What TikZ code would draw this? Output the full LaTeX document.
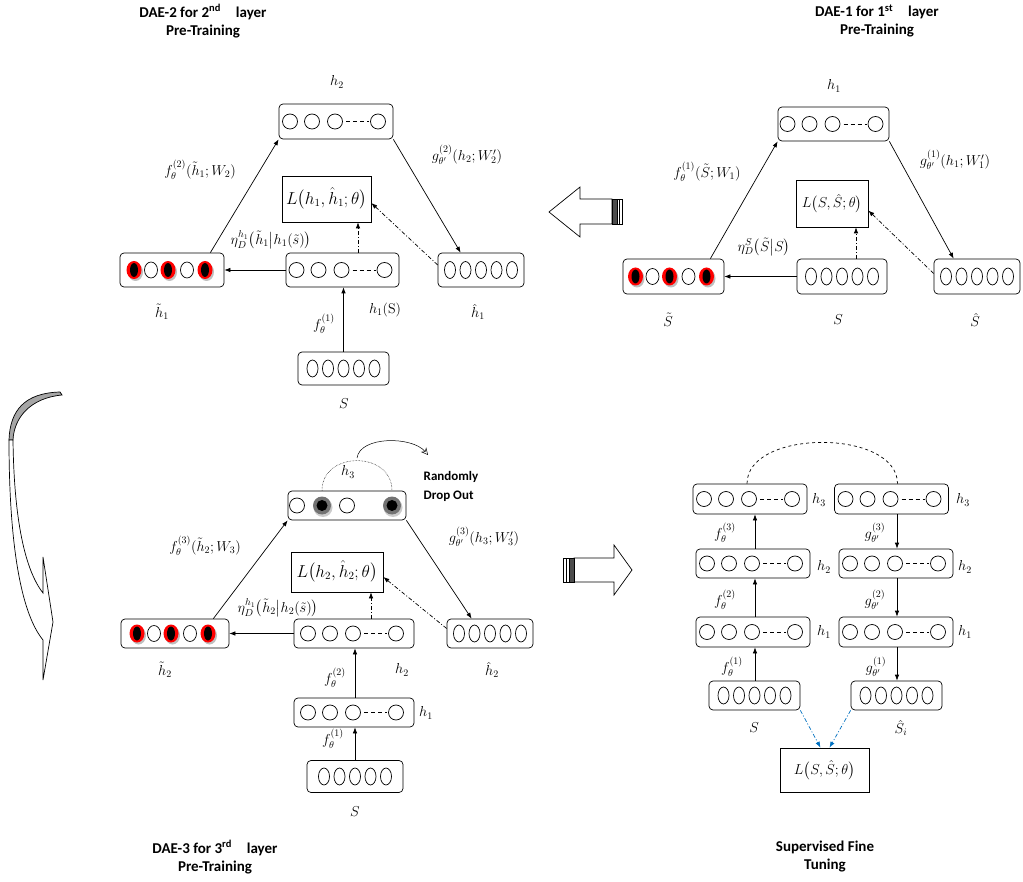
\documentclass[tikz,border=0pt]{standalone}
\usepackage{fontspec}
\usepackage{amsmath}
\usepackage{amssymb}
\usetikzlibrary{calc,arrows.meta}
\newfontfamily\calibri{Carlito}

% hidden units: three circles, dashes, one circle
\newcommand{\hunits}[1]{%
  \foreach \dx in {-46,-24,-1,42}
    \draw ($(#1)+(\dx,0)$) circle[radius=7.5pt];
  \draw[dash pattern=on 4pt off 3pt] ($(#1)+(10,0)$) -- ($(#1)+(33,0)$);}
% input units: five ovals
\newcommand{\ovals}[1]{%
  \foreach \dx in {-31,-15.5,0,15.5,31}
    \draw ($(#1)+(\dx,0)$) ellipse[x radius=5.5pt,y radius=8.5pt];}
% corrupted input: red rings with black cores
\newcommand{\noisy}[1]{%
  \foreach \dx in {-38,-4,33}{
    \fill[black!25] ($(#1)+(\dx+1.5,2)$) ellipse[x radius=7.5pt,y radius=9pt];
    \fill[red] ($(#1)+(\dx,0)$) ellipse[x radius=7.5pt,y radius=9pt];
    \fill[black] ($(#1)+(\dx,0)$) ellipse[x radius=4pt,y radius=7pt];}
  \foreach \dx in {-21,15}
    \draw ($(#1)+(\dx,0)$) ellipse[x radius=6.5pt,y radius=8pt];}
% dropped units
\newcommand{\dropped}[1]{%
  \foreach \dx in {-50,0}
    \draw ($(#1)+(\dx,0)$) circle[radius=7.5pt];
  \foreach \dx in {-25,45}{
    \fill[black!20] ($(#1)+(\dx+1,2)$) circle[radius=9.5pt];
    \fill[black!55] ($(#1)+(\dx,0)$) circle[radius=9pt];
    \fill[black] ($(#1)+(\dx,0)$) circle[radius=5.5pt];}}

\begin{document}
\begin{tikzpicture}[x=1pt,y=-1pt,line width=0.7pt,>={Latex[length=6pt,width=4.5pt]},
  unitbox/.style={draw,rounded corners=4pt,inner sep=0pt},
  loss/.style={draw,inner sep=0pt,font=\fontsize{16}{18}\selectfont},
  lbl/.style={inner sep=0pt,font=\fontsize{14}{16}\selectfont},
  headtxt/.style={align=center,font=\calibri\bfseries\fontsize{15}{18}\selectfont},
  dd/.style={->,dash pattern=on 4pt off 2pt on 1pt off 2pt}]

\useasboundingbox (0,0) rectangle (1023,882);

%%% DAE-1
\node[headtxt](tA) at (877,21){DAE-1 for 1\textsuperscript{st}\quad layer\\Pre-Training};
\node[unitbox,minimum width=111,minimum height=34](aH1) at (833.5,124){};
\node[loss,minimum width=72,minimum height=47,font=\fontsize{14}{16}\selectfont](aLoss) at (832,203.5){$L\bigl(S,\hat S;\theta\bigr)$};
\node[unitbox,minimum width=101,minimum height=35](aSt) at (673.5,276.5){};
\node[unitbox,minimum width=90,minimum height=35](aS) at (842,276.5){};
\node[unitbox,minimum width=86,minimum height=35](aSh) at (977,276.5){};
\hunits{aH1} \noisy{aSt} \ovals{aS} \ovals{aSh}
\node[lbl](aH1l) at (834,86){$h_1$};
\node[lbl](aF) at (707,172){$f_\theta^{(1)}(\tilde S;W_1)$};
\node[lbl](aG) at (955,160){$g_{\theta'}^{(1)}(h_1;W_1')$};
\node[lbl](aEta) at (764,247){$\eta_D^S\bigl(\tilde S\big|S\bigr)$};
\node[lbl](aStl) at (668,320){$\tilde S$};
\node[lbl](aSl) at (838,320){$S$};
\node[lbl](aShl) at (975,320){$\hat S$};

\path[->]([xshift=-14pt]aSt.north east) edge (aH1.south west)
  (aH1.south east) edge ([xshift=20pt]aSh.north west)
  (aS.west) edge (aSt.east);
\path[dd]([xshift=14pt]aS.north) edge ([xshift=24pt]aLoss.south)
  ([yshift=3pt]aSh.west) edge ([yshift=-7pt]aLoss.east);

%%% DAE-2
\node[headtxt](tB) at (203,21){DAE-2 for 2\textsuperscript{nd}\quad layer\\Pre-Training};
\node[unitbox,minimum width=114,minimum height=35](bH2) at (336,121.5){};
\node[loss,minimum width=89,minimum height=46](bLoss) at (326.5,199){$L\bigl(h_1,\hat h_1;\theta\bigr)$};
\node[unitbox,minimum width=104,minimum height=34](bHt) at (172,270){};
\node[unitbox,minimum width=113,minimum height=34](bH1) at (342.5,270){};
\node[unitbox,minimum width=86,minimum height=34](bHh) at (481,270){};
\node[unitbox,minimum width=91,minimum height=33](bS) at (343.5,368.5){};
\hunits{bH2} \noisy{bHt} \hunits{bH1} \ovals{bHh} \ovals{bS}
\node[lbl](bH2l) at (337,82){$h_2$};
\node[lbl](bF) at (200,170){$f_\theta^{(2)}(\tilde h_1;W_2)$};
\node[lbl](bG) at (467,155){$g_{\theta'}^{(2)}(h_2;W_2')$};
\node[lbl](bEta) at (271,240){$\eta_D^{h_1}\bigl(\tilde h_1\big|h_1(\tilde s)\bigr)$};
\node[lbl](bHtl) at (162,312){$\tilde h_1$};
\node[lbl](bH1l) at (385,310){$h_1$(S)};
\node[lbl](bF1) at (324,324){$f_\theta^{(1)}$};
\node[lbl](bSl) at (344,404){$S$};
\node[lbl](bHhl) at (478,312){$\hat h_1$};

\path[->]([xshift=-14pt]bHt.north east) edge (bH2.south west)
  (bH2.south east) edge ([xshift=23pt]bHh.north west)
  (bH1.west) edge (bHt.east)
  (bS.north) edge ([xshift=1pt]bH1.south);
\path[dd]([xshift=15.5pt]bH1.north) edge ([xshift=31.5pt]bLoss.south)
  ([yshift=5pt]bHh.west) edge ([yshift=-4pt]bLoss.east);

%%% DAE-3
\node[headtxt](tC) at (215,857){DAE-3 for 3\textsuperscript{rd}\quad layer\\Pre-Training};
\node[unitbox,minimum width=118,minimum height=29](cH3) at (347,505.5){};
\node[loss,minimum width=92,minimum height=40](cLoss) at (337,572){$L\bigl(h_2,\hat h_2;\theta\bigr)$};
\node[unitbox,minimum width=108,minimum height=29](cHt) at (175,633.5){};
\node[unitbox,minimum width=120,minimum height=29](cH2) at (354,633.5){};
\node[unitbox,minimum width=86,minimum height=29](cHh) at (490,633.5){};
\node[unitbox,minimum width=120,minimum height=29](cH1) at (354,712.5){};
\node[unitbox,minimum width=96,minimum height=32](cS) at (355,776.5){};
\dropped{cH3} \noisy{cHt} \hunits{cH2} \ovals{cHh} \hunits{cH1} \ovals{cS}
\node[lbl](cH3l) at (348,472){$h_3$};
\node[headtxt,font=\calibri\bfseries\fontsize{13}{19}\selectfont,align=left,anchor=west](cDrop) at (420,486){Randomly\\Drop Out};
\node[lbl](cF) at (205,546){$f_\theta^{(3)}(\tilde h_2;W_3)$};
\node[lbl](cG) at (484,537){$g_{\theta'}^{(3)}(h_3;W_3')$};
\node[lbl](cEta) at (278,608){$\eta_D^{h_1}\bigl(\tilde h_2\big|h_2(\tilde s)\bigr)$};
\node[lbl](cHtl) at (165,670){$\tilde h_2$};
\node[lbl](cH2l) at (402,670){$h_2$};
\node[lbl](cF2) at (335,678){$f_\theta^{(2)}$};
\node[lbl](cH1l) at (426,713){$h_1$};
\node[lbl](cF1) at (333,739){$f_\theta^{(1)}$};
\node[lbl](cSl) at (355,812){$S$};
\node[lbl](cHhl) at (492,670){$\hat h_2$};
\coordinate (dropA) at (357,458);
\coordinate (dropB) at (428,455);

\draw[densely dotted,line width=0.5pt]([xshift=-25pt]cH3.north) .. controls +(0,-40) and +(0,-40) .. ([xshift=45pt]cH3.north);
\draw[line width=0.5pt,-{Stealth[open,length=7pt,width=7pt]}](dropA) .. controls (360,436) and (412,436) .. (dropB);
\path[->]([xshift=-16pt]cHt.north east) edge (cH3.south west)
  (cH3.south east) edge ([xshift=25pt]cHh.north west)
  (cH2.west) edge (cHt.east)
  (cS.north) edge ([xshift=1pt]cH1.south)
  ([xshift=1pt]cH1.north) edge ([xshift=1pt]cH2.south);
\path[dd]([xshift=17pt]cH2.north) edge ([xshift=34pt]cLoss.south)
  ([yshift=5pt]cHh.west) edge ([yshift=-5pt]cLoss.east);

%%% fine tuning
\node[headtxt](tD) at (825,857){Supervised Fine\\Tuning};
\node[unitbox,minimum width=114,minimum height=30](dH3l) at (750,499){};
\node[unitbox,minimum width=114,minimum height=30](dH3r) at (891.5,499){};
\node[unitbox,minimum width=114,minimum height=29](dH2l) at (753,563.5){};
\node[unitbox,minimum width=114,minimum height=29](dH2r) at (896,563.5){};
\node[unitbox,minimum width=114,minimum height=30](dH1l) at (753,632){};
\node[unitbox,minimum width=114,minimum height=30](dH1r) at (896,632){};
\node[unitbox,minimum width=91,minimum height=29](dSl) at (754.5,695.5){};
\node[unitbox,minimum width=91,minimum height=29](dSr) at (896.5,695.5){};
\node[loss,minimum width=89,minimum height=44,font=\fontsize{15}{17}\selectfont](dLoss) at (824.5,770){$L\bigl(S,\hat S;\theta\bigr)$};
\hunits{dH3l} \hunits{dH3r} \hunits{dH2l} \hunits{dH2r} \hunits{dH1l} \hunits{dH1r}
\ovals{dSl} \ovals{dSr}
\node[lbl](dH3ll) at (819,500){$h_3$};
\node[lbl](dH3rl) at (963,500){$h_3$};
\node[lbl](dH2ll) at (824,567){$h_2$};
\node[lbl](dH2rl) at (965,567){$h_2$};
\node[lbl](dH1ll) at (824,632){$h_1$};
\node[lbl](dH1rl) at (965,632){$h_1$};
\node[lbl](dF3) at (725,533){$f_\theta^{(3)}$};
\node[lbl](dF2) at (725,600){$f_\theta^{(2)}$};
\node[lbl](dF1) at (732,667){$f_\theta^{(1)}$};
\node[lbl](dG3) at (875,533){$g_{\theta'}^{(3)}$};
\node[lbl](dG2) at (875,600){$g_{\theta'}^{(2)}$};
\node[lbl](dG1) at (876,667){$g_{\theta'}^{(1)}$};
\node[lbl](dSll) at (754,728){$S$};
\node[lbl](dSrl) at (901,728){$\hat S_i$};

\draw[dashed]([xshift=-3pt]dH3l.north) .. controls +(0,-55) and +(0,-55) .. ([xshift=6pt]dH3r.north);
\path[->]([xshift=0.5pt]dSl.north) edge ([xshift=2pt]dH1l.south)
  ([xshift=2pt]dH1l.north) edge ([xshift=2pt]dH2l.south)
  ([xshift=2pt]dH2l.north) edge ([xshift=5pt]dH3l.south)
  ([xshift=5.5pt]dH3r.south) edge ([xshift=1pt]dH2r.north)
  ([xshift=1pt]dH2r.south) edge ([xshift=1pt]dH1r.north)
  ([xshift=1pt]dH1r.south) edge ([xshift=0.5pt]dSr.north);
\path[dd,color={rgb,255:red,0;green,112;blue,192}](dSl.south east) edge ([xshift=-4pt]dLoss.north)
  (dSr.south west) edge ([xshift=5pt]dLoss.north);

%%% block arrows
\draw[fill=white](549,212) -- (580,187) -- (580,199) -- (612,199) -- (612,224) -- (580,224) -- (580,237) -- cycle;
\draw[fill=black!70](612,199) rectangle (617,224);
\draw(612,199) rectangle (622,224) (619.5,199) -- (619.5,224);
\draw[fill=white](632,570) -- (614,545) -- (614,558) -- (574,558) -- (574,582) -- (614,582) -- (614,595) -- cycle;
\draw[fill=black!70](569,558) rectangle (574,582);
\draw(563,558) rectangle (574,582) (566,558) -- (566,582);

% curved arrow on the left
\draw[fill=black!35](60,392) .. controls (25,393) and (10,410) .. (9,440) -- (13,440) .. controls (14,418) and (30,398) .. (62,395) -- cycle;
\draw[fill=white](9,440) .. controls (9,540) and (20,612) .. (43,640) -- (43,680) -- (53,622) -- (43,557) -- (43,593) .. controls (25,570) and (14,520) .. (13,440) -- cycle;

\end{tikzpicture}
\end{document}
